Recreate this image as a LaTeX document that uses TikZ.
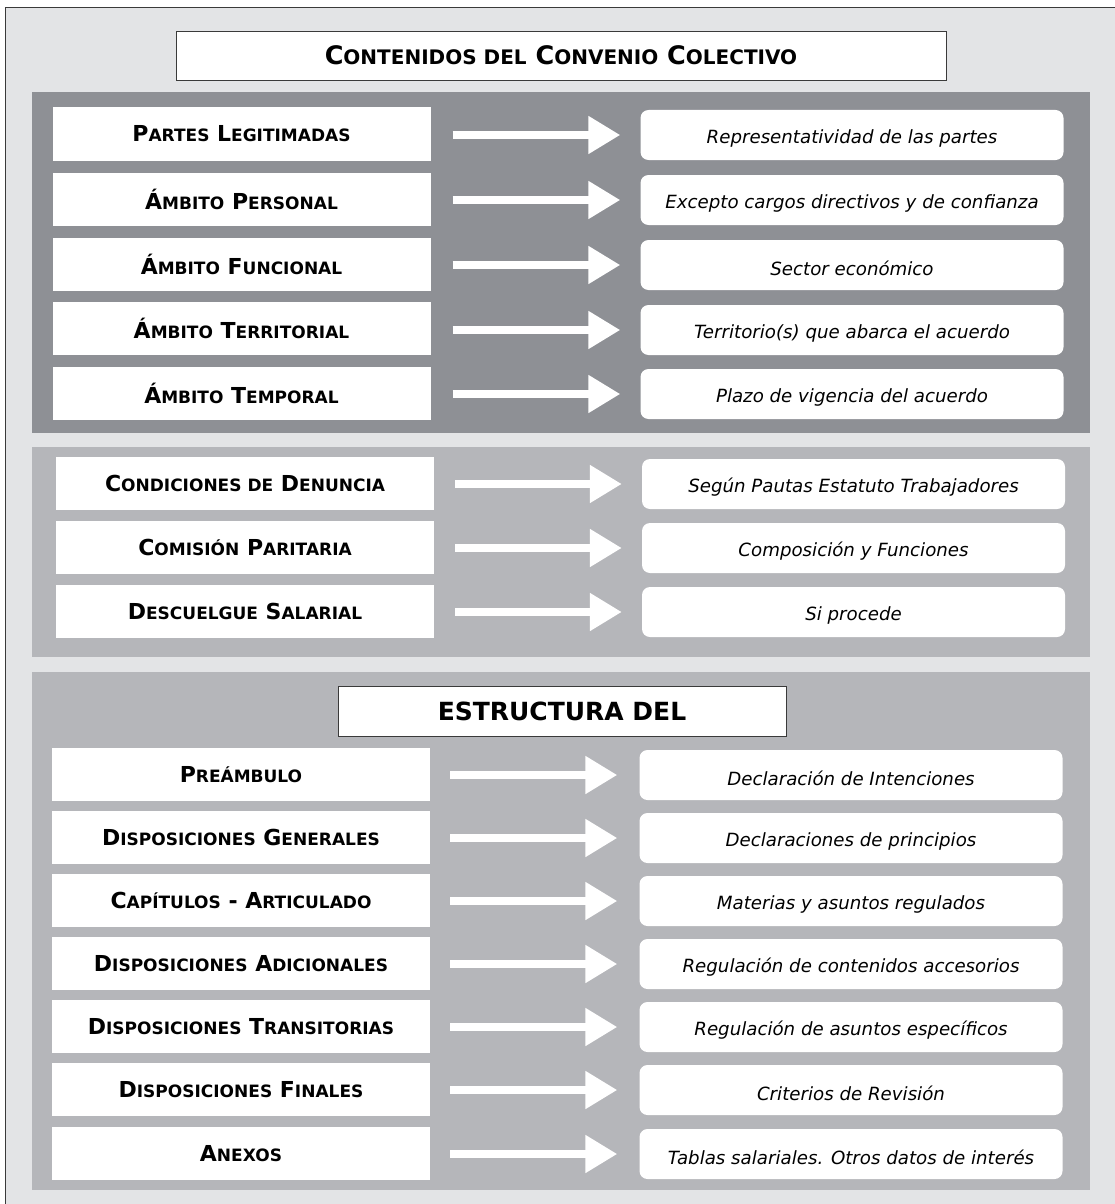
\documentclass[tikz,border=0pt]{standalone}
\usepackage{fontspec}
\setmainfont{DejaVu Sans}
\usetikzlibrary{arrows.meta}
\definecolor{bgout}{HTML}{E3E4E6}
\definecolor{darkpanel}{HTML}{8E9095}
\definecolor{midpanel}{HTML}{B5B6BA}
\definecolor{framecol}{HTML}{3A3A3A}
\newcommand\sk[1]{{\fontsize{17}{18}\selectfont #1}}
\newcommand\tsk[1]{{\fontsize{20}{22}\selectfont #1}}
\newcommand\dn[1]{\raisebox{-3pt}[\height][\depth]{#1}}
\tikzset{
  x=1pt,y=1pt,
  leftbox/.style={fill=white,draw=none,minimum width=378pt,minimum height=53pt,inner sep=0pt,
     font=\bfseries\fontsize{22}{24}\selectfont},
  rightbox/.style={fill=white,draw=none,rounded corners=8pt,minimum width=423pt,minimum height=50pt,inner sep=0pt,
     font=\itshape\fontsize{18.2}{21}\selectfont},
  blockarrow/.style={draw=white,line width=8pt,-{Triangle[width=36pt,length=32pt]}},
  titlebox/.style={fill=white,draw=framecol,line width=0.8pt,inner sep=0pt},
}
\begin{document}
\begin{tikzpicture}
\useasboundingbox (0,0) rectangle (1115,-1204);
\clip (0,0) rectangle (1115,-1204);
\fill[white] (0,0) rectangle (1115,-1204);
\draw[fill=bgout,draw=framecol,line width=0.8pt] (5,-7) rectangle (1130,-1220);
% panels
\fill[darkpanel] (32,-92) rectangle (1090,-433);
\fill[midpanel] (32,-447) rectangle (1090,-657);
\fill[midpanel] (32,-672) rectangle (1090,-1190);
% titles
\node[titlebox,minimum width=770pt,minimum height=49pt,font=\bfseries\fontsize{25.5}{28}\selectfont] (t1) at (561,-55.5)
  {C\tsk{ONTENIDOS DEL} C\tsk{ONVENIO} C\tsk{OLECTIVO}};
\node[titlebox,minimum width=448pt,minimum height=50pt,font=\bfseries\fontsize{25}{28}\selectfont] (t2) at (562,-711)
  {ESTRUCTURA DEL};
% panel 1 rows
\foreach \i/\ly/\ry/\lt/\rt in {
  1/134/135/{P\sk{ARTES} L\sk{EGITIMADAS}}/{Representatividad de las partes},
  2/199.5/200/{Á\sk{MBITO} P\sk{ERSONAL}}/{Excepto cargos directivos y de confianza},
  3/264.5/265/{Á\sk{MBITO} F\sk{UNCIONAL}}/{Sector económico},
  4/328.5/330/{Á\sk{MBITO} T\sk{ERRITORIAL}}/{Territorio(s) que abarca el acuerdo},
  5/393.5/394/{Á\sk{MBITO} T\sk{EMPORAL}}/{Plazo de vigencia del acuerdo}}{
  \node[leftbox] (l\i) at (241.5,-\ly) {\lt};
  \node[rightbox] (r\i) at (852,-\ry) {\dn{\rt}};
  \draw[blockarrow] ([xshift=22pt]l\i.east |- r\i.west) -- ([xshift=-20pt]r\i.west);
}
% panel 2 rows
\foreach \i/\ly/\ry/\lt/\rt in {
  6/483.5/484/{C\sk{ONDICIONES DE} D\sk{ENUNCIA}}/{Según Pautas Estatuto Trabajadores},
  7/547.5/548/{C\sk{OMISIÓN} P\sk{ARITARIA}}/{Composición y Funciones},
  8/611/612/{D\sk{ESCUELGUE} S\sk{ALARIAL}}/{Si procede}}{
  \node[leftbox] (l\i) at (245,-\ly) {\lt};
  \node[rightbox] (r\i) at (853.5,-\ry) {\dn{\rt}};
  \draw[blockarrow] ([xshift=21pt]l\i.east |- r\i.west) -- ([xshift=-20pt]r\i.west);
}
% panel 3 rows
\foreach \i/\ly/\ry/\lt/\rt in {
  9/774.5/775/{P\sk{REÁMBULO}}/{Declaración de Intenciones},
  10/837.5/838/{D\sk{ISPOSICIONES} G\sk{ENERALES}}/{Declaraciones de principios},
  11/900.5/901/{C\sk{APÍTULOS} - A\sk{RTICULADO}}/{Materias y asuntos regulados},
  12/963.5/964/{D\sk{ISPOSICIONES} A\sk{DICIONALES}}/{Regulación de contenidos accesorios},
  13/1026.5/1027/{D\sk{ISPOSICIONES} T\sk{RANSITORIAS}}/{Regulación de asuntos específicos},
  14/1089.5/1090/{D\sk{ISPOSICIONES} F\sk{INALES}}/{Criterios de Revisión},
  15/1153.5/1154/{A\sk{NEXOS}}/{Tablas salariales. Otros datos de interés}}{
  \node[leftbox] (l\i) at (241,-\ly) {\lt};
  \node[rightbox] (r\i) at (851,-\ry) {\dn{\rt}};
  \draw[blockarrow] ([xshift=20pt]l\i.east |- r\i.west) -- ([xshift=-22pt]r\i.west);
}
\end{tikzpicture}
\end{document}
